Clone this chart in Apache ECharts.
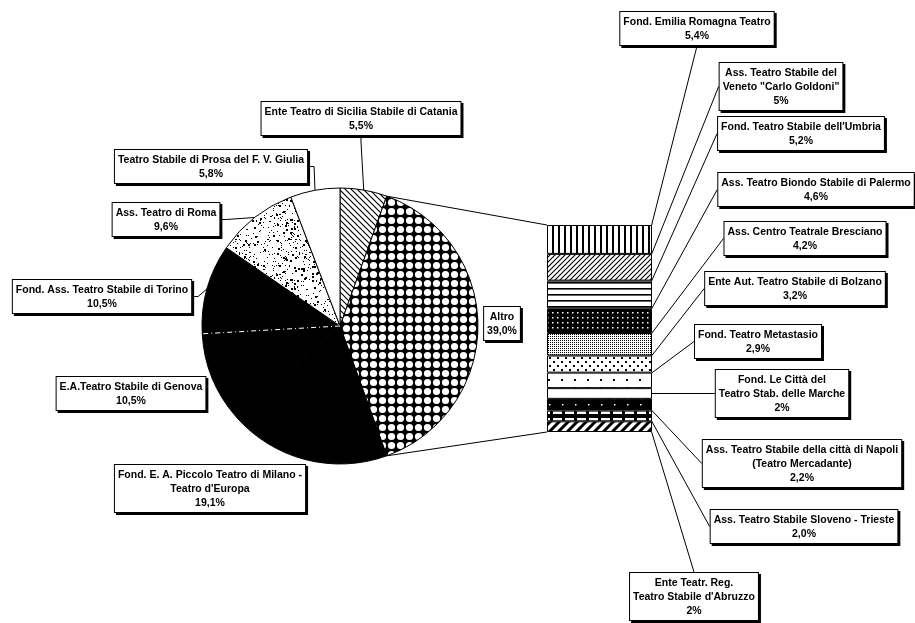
<!DOCTYPE html>
<html>
<head>
<meta charset="utf-8">
<script src="https://cdn.jsdelivr.net/npm/echarts@6/dist/echarts.min.js"></script>
<style>
html, body { margin: 0; padding: 0; background: #fff; }
#main { width: 915px; height: 623px; }
</style>
</head>
<body>
<div id="main"></div>
<script>
// Torta con barra: quote dei teatri stabili

const pieNames = [
    'Ente Teatro di Sicilia Stabile di Catania',
    'Altro',
    'Fond. E. A. Piccolo Teatro di Milano -\nTeatro d\'Europa',
    'E.A.Teatro Stabile di Genova',
    'Fond. Ass. Teatro Stabile di Torino',
    'Ass. Teatro di Roma',
    'Teatro Stabile di Prosa del F. V. Giulia'
];
const pieValues = [5.5, 39.0, 19.1, 10.5, 10.5, 9.6, 5.8];

const barNames = [
    'Fond. Emilia Romagna Teatro',
    'Ass. Teatro Stabile del\nVeneto "Carlo Goldoni"',
    'Fond. Teatro Stabile dell\'Umbria',
    'Ass. Teatro Biondo Stabile di Palermo',
    'Ass. Centro Teatrale Bresciano',
    'Ente Aut. Teatro Stabile di Bolzano',
    'Fond. Teatro Metastasio',
    'Fond. Le Città del\nTeatro Stab. delle Marche',
    'Ass. Teatro Stabile della città di Napoli\n(Teatro Mercadante)',
    'Ass. Teatro Stabile Sloveno - Trieste',
    'Ente Teatr. Reg.\nTeatro Stabile d\'Abruzzo'
];
const barValues = [5.4, 5, 5.2, 4.6, 4.2, 3.2, 2.9, 2, 2.2, 2.0, 2];
const barDecimals = [1, 0, 1, 1, 1, 1, 1, 0, 1, 1, 0];

// posizione etichette: [centro x, bordo alto y]
const pieLabelPos = [[361, 102], [502, 307], [210, 465], [131, 377], [102, 280], [166, 203], [211, 150]];
const barLabelPos = [
    [697, 12], [781, 63], [801, 117], [816, 173], [805, 222], [795, 272],
    [758, 325], [782, 370], [802, 440], [804, 510], [694, 573]
];

const PIE_C = [340, 326];
const PIE_R = 138;
const BAR = { left: 547, top: 225, width: 105, height: 207 };

function fmt(v, d) {
    return v.toFixed(d).replace('.', ',') + '%';
}

/**
 * crea un riempimento a trama
 */
function pattern(w, h, bg, draw) {
    const c = document.createElement('canvas');
    c.width = w;
    c.height = h;
    const ctx = c.getContext('2d');
    ctx.fillStyle = bg;
    ctx.fillRect(0, 0, w, h);
    const fg = bg === '#000' ? '#fff' : '#000';
    ctx.fillStyle = fg;
    ctx.strokeStyle = fg;
    draw(ctx, w, h);
    return { image: c, repeat: 'repeat' };
}

function hatch(size, lw, forward) {
    return pattern(size, size, '#fff', (ctx, w, h) => {
        ctx.lineWidth = lw;
        ctx.beginPath();
        for (let k = -w; k <= w; k += w) {
            if (forward) {
                ctx.moveTo(k - 1, h + 1);
                ctx.lineTo(k + w + 1, -1);
            } else {
                ctx.moveTo(k - 1, -1);
                ctx.lineTo(k + w + 1, h + 1);
            }
        }
        ctx.stroke();
    });
}

function dots(w, h, bg, pts, s) {
    return pattern(w, h, bg, ctx => {
        pts.forEach(p => ctx.fillRect(p[0], p[1], s, s));
    });
}

// trama a puntini sparsi (Roma)
function speckle() {
    let seed = 7;
    const rnd = () => { seed = (seed * 16807) % 2147483647; return seed / 2147483647; };
    return pattern(60, 60, '#fff', ctx => {
        for (let i = 0; i < 260; i++) {
            const s = rnd() < 0.25 ? 2 : 1;
            ctx.fillRect(Math.floor(rnd() * 60), Math.floor(rnd() * 60), s, s);
        }
    });
}

const pieFills = [
    hatch(6, 1.2, false),
    pattern(9, 9, '#000', ctx => { ctx.beginPath(); ctx.arc(4.5, 4.5, 3.6, 0, Math.PI * 2); ctx.fill(); }),
    '#000',
    '#000',
    '#000',
    speckle(),
    '#fff'
];

const barFills = [
    pattern(6, 6, '#fff', ctx => ctx.fillRect(0, 0, 2, 6)),
    hatch(5, 1.1, true),
    pattern(6, 6, '#fff', ctx => ctx.fillRect(0, 0, 6, 1.6)),
    dots(5, 5, '#000', [[2, 2]], 1.5),
    dots(2, 2, '#fff', [[0, 0]], 1),
    dots(8, 8, '#fff', [[1, 1], [5, 5]], 2),
    dots(13, 8, '#fff', [[2, 3]], 2),
    '#fff',
    dots(13, 6, '#000', [[3, 2]], 1.5),
    pattern(12, 8, '#000', ctx => ctx.fillRect(1, 2, 9, 4)),
    hatch(9, 3, true)
];

const labelBox = {
    color: '#000',
    fontFamily: 'Liberation Sans',
    fontWeight: 'bold',
    fontSize: 10.5,
    lineHeight: 14,
    align: 'center',
    backgroundColor: '#fff',
    borderColor: '#000',
    borderWidth: 1,
    padding: [3, 3, 2, 3],
    shadowColor: '#000',
    shadowOffsetX: 2,
    shadowOffsetY: 2,
    shadowBlur: 0
};

const chart = echarts.init(document.getElementById('main'));

const pieData = pieNames.map((n, i) => ({
    name: n,
    value: pieValues[i],
    itemStyle: { color: pieFills[i] },
    labelLine: { show: i === 0 || i >= 4 }
}));

const barTotal = barValues.reduce((a, b) => a + b, 0);

const barSeries = barNames.map((n, i) => ({
    type: 'bar',
    name: n,
    stack: 'altro',
    barWidth: '100%',
    data: [barValues[i]],
    itemStyle: { color: barFills[i], borderColor: '#000', borderWidth: 1 },
    label: Object.assign({
        show: true,
        position: 'right',
        formatter: n + '\n' + fmt(barValues[i], barDecimals[i])
    }, labelBox),
    labelLine: { show: true, lineStyle: { color: '#000', width: 1 } },
    labelLayout: () => ({
        x: barLabelPos[i][0],
        y: barLabelPos[i][1],
        align: 'center',
        verticalAlign: 'top'
    }),
    emphasis: { disabled: true },
    animation: false
}));

// linee di raccordo torta -> barra
const toPt = (frac, r) => {
    const a = frac * Math.PI * 2;
    return [PIE_C[0] + r * Math.sin(a), PIE_C[1] - r * Math.cos(a)];
};
const pieTotal = pieValues.reduce((a, b) => a + b, 0);
const pTop = toPt(pieValues[0] / pieTotal, PIE_R);
const pBot = toPt((pieValues[0] + pieValues[1]) / pieTotal, PIE_R);
// confine tratteggiato Genova / Torino
const pDash = toPt((pieValues[0] + pieValues[1] + pieValues[2] + pieValues[3]) / pieTotal, PIE_R - 1);

const option = {
    backgroundColor: '#fff',
    animation: false,
    grid: { left: BAR.left, top: BAR.top, width: BAR.width, height: BAR.height },
    xAxis: { type: 'category', data: ['Altro'], show: false },
    yAxis: { type: 'value', inverse: true, min: 0, max: barTotal, show: false },
    graphic: [
        { type: 'line', shape: { x1: pTop[0], y1: pTop[1], x2: BAR.left, y2: BAR.top }, style: { stroke: '#000', lineWidth: 1 } },
        { type: 'line', shape: { x1: pBot[0], y1: pBot[1], x2: BAR.left, y2: BAR.top + BAR.height }, style: { stroke: '#000', lineWidth: 1 } },
        { type: 'line', z: 100, shape: { x1: PIE_C[0], y1: PIE_C[1], x2: pDash[0], y2: pDash[1] }, style: { stroke: '#fff', lineWidth: 1, lineDash: [5, 3, 1, 3] } }
    ],
    series: [{
        type: 'pie',
        center: PIE_C,
        radius: PIE_R,
        startAngle: 90,
        clockwise: true,
        avoidLabelOverlap: false,
        data: pieData,
        itemStyle: { borderColor: '#000', borderWidth: 1 },
        label: Object.assign({
            show: true,
            position: 'outside',
            formatter: p => p.name + '\n' + fmt(p.value, 1)
        }, labelBox),
        labelLine: { length: 6, length2: 6, lineStyle: { color: '#000', width: 1 } },
        labelLayout: params => ({
            x: pieLabelPos[params.dataIndex][0],
            y: pieLabelPos[params.dataIndex][1],
            align: 'center',
            verticalAlign: 'top'
        }),
        emphasis: { disabled: true }
    }].concat(barSeries)
};

chart.setOption(option);
</script>
</body>
</html>
